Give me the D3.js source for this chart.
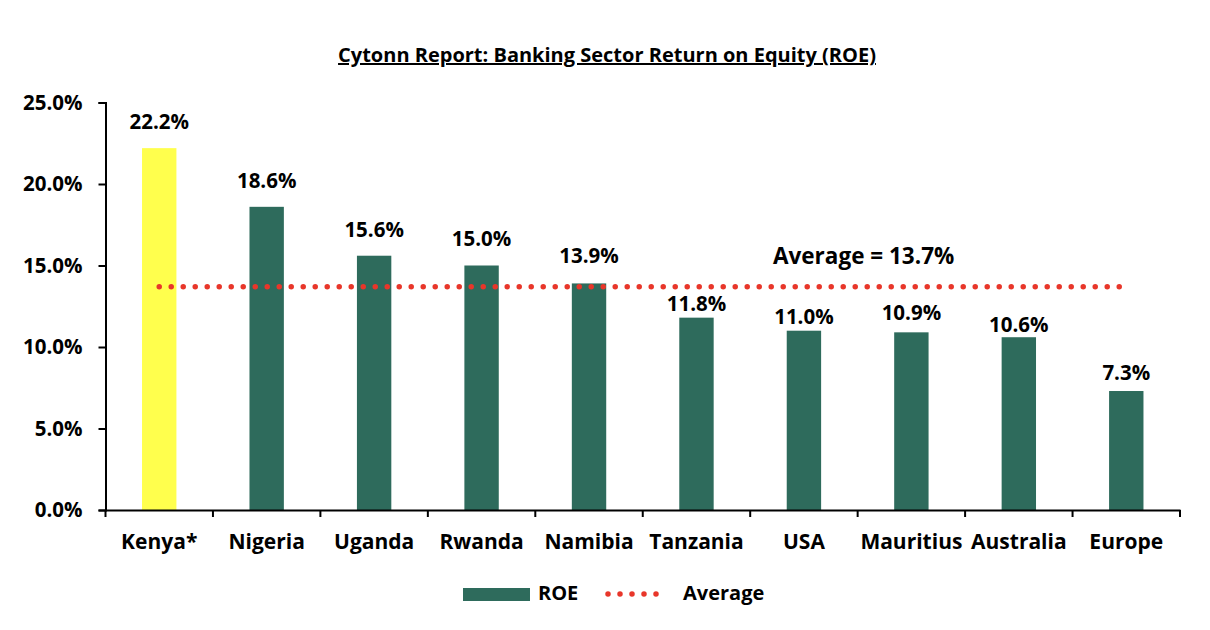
<!DOCTYPE html>
<html>
<head>
<meta charset="utf-8">
<script src="https://cdn.jsdelivr.net/npm/d3@7"></script>
<style>
  body { margin: 0; background: #fff; }
  text { font-family: "Open Sans", sans-serif; font-weight: bold; fill: #000; }
</style>
</head>
<body>
<svg id="chart" width="1210" height="630"></svg>
<script>
// Chart data
var countries = ["Kenya*", "Nigeria", "Uganda", "Rwanda", "Namibia", "Tanzania", "USA", "Mauritius", "Australia", "Europe"];
var roe = [22.2, 18.6, 15.6, 15.0, 13.9, 11.8, 11.0, 10.9, 10.6, 7.3];
var average = 13.7;
var yTicks = [0, 5, 10, 15, 20, 25];

var svg = d3.select("#chart");

// Plot area
var plotLeft = 105.5, plotRight = 1180, plotTop = 102.5, plotBottom = 510;
// gap (px) between each bar top and its label baseline, as placed in the original
var labelGap = [19, 18.7, 18.7, 20, 20, 6.6, 6.7, 12.7, 5.6, 11];

var x = d3.scaleBand().domain(countries).range([plotLeft, plotRight]).paddingInner(0).paddingOuter(0);
var y = d3.scaleLinear().domain([0, 25]).range([plotBottom, plotTop]);
var barWidth = x.bandwidth() * 0.32;

// Title
svg.append("text")
  .attr("x", 607)
  .attr("y", 62)
  .attr("text-anchor", "middle")
  .style("font-size", "20px")
  .style("text-decoration", "underline")
  .text("Cytonn Report: Banking Sector Return on Equity (ROE)");

// Bars
svg.selectAll(".bar")
  .data(roe)
  .enter()
  .append("rect")
  .attr("class", "bar")
  .attr("x", function (d, i) { return x(countries[i]) + (x.bandwidth() - barWidth) / 2; })
  .attr("y", function (d) { return y(d); })
  .attr("width", barWidth)
  .attr("height", function (d) { return y(0) - y(d); })
  .attr("fill", function (d, i) { return i === 0 ? "#ffff4d" : "#2e6b5c"; });

// Value labels
svg.selectAll(".val")
  .data(roe)
  .enter()
  .append("text")
  .attr("class", "val")
  .attr("x", function (d, i) { return x(countries[i]) + x.bandwidth() / 2; })
  .attr("y", function (d, i) { return y(d) - labelGap[i]; })
  .attr("text-anchor", "middle")
  .style("font-size", "20.5px")
  .text(function (d) { return d.toFixed(1) + "%"; });

// Average line (dotted)
var line = d3.line()
  .x(function (d) { return x(d) + x.bandwidth() / 2; })
  .y(function () { return y(average); });

svg.append("path")
  .datum(countries)
  .attr("d", line)
  .attr("fill", "none")
  .attr("stroke", "#e8362a")
  .attr("stroke-width", 5.5)
  .attr("stroke-linecap", "round")
  .attr("stroke-dasharray", "0 12");

svg.append("text")
  .attr("x", 773)
  .attr("y", 264)
  .style("font-size", "22.5px")
  .text("Average = " + average.toFixed(1) + "%");

// Y axis
var yAxis = svg.append("g")
  .attr("transform", "translate(" + plotLeft + ",0)")
  .call(d3.axisLeft(y).tickValues(yTicks).tickSize(7).tickPadding(16)
    .tickFormat(function (d) { return d.toFixed(1) + "%"; }));
yAxis.select(".domain").attr("stroke", "#000").attr("stroke-width", 2);
yAxis.selectAll(".tick line").attr("stroke", "#000").attr("stroke-width", 2);
yAxis.selectAll(".tick text")
  .style("font-size", "20.5px")
  .style("font-family", "'Open Sans', sans-serif")
  .attr("fill", "#000");

// X axis
var xAxis = svg.append("g")
  .attr("transform", "translate(0," + plotBottom + ")")
  .call(d3.axisBottom(x).tickSize(0).tickPadding(24).tickSizeOuter(0));
xAxis.select(".domain").attr("stroke", "#000").attr("stroke-width", 2);
xAxis.selectAll(".tick text")
  .style("font-size", "21px")
  .style("font-family", "'Open Sans', sans-serif")
  .attr("fill", "#000");

// Category separators
var sepPos = countries.map(function (c) { return x(c); }).concat([plotRight]);
xAxis.selectAll(".sep")
  .data(sepPos)
  .enter()
  .append("line")
  .attr("class", "sep")
  .attr("x1", function (d) { return d; })
  .attr("x2", function (d) { return d; })
  .attr("y1", 0)
  .attr("y2", 7)
  .attr("stroke", "#000")
  .attr("stroke-width", 2);

// Legend
var legend = svg.append("g");
legend.append("rect")
  .attr("x", 463).attr("y", 588)
  .attr("width", 67).attr("height", 13)
  .attr("fill", "#2e6b5c");
legend.append("text")
  .attr("x", 538).attr("y", 600)
  .style("font-size", "20px")
  .text("ROE");
legend.append("line")
  .attr("x1", 608).attr("x2", 668)
  .attr("y1", 594).attr("y2", 594)
  .attr("stroke", "#e8362a")
  .attr("stroke-width", 5.5)
  .attr("stroke-linecap", "round")
  .attr("stroke-dasharray", "0 12");
legend.append("text")
  .attr("x", 683).attr("y", 600)
  .style("font-size", "20px")
  .text("Average");
</script>
</body>
</html>
